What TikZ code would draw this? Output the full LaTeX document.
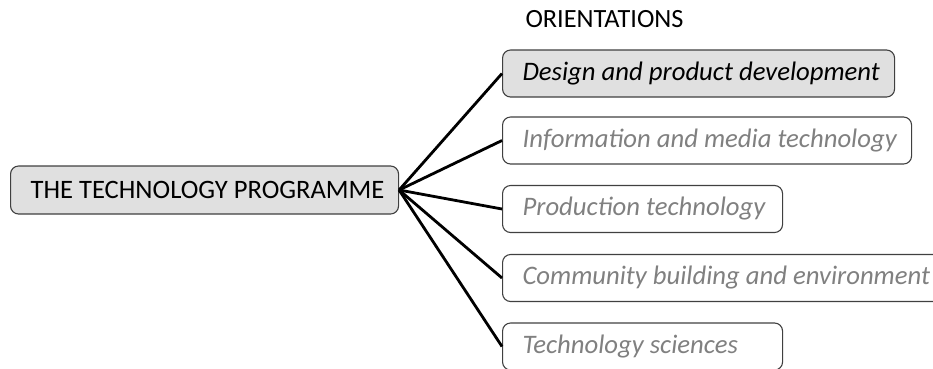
\documentclass[tikz,border=0pt]{standalone}
\usepackage{fontspec}
\setmainfont{Carlito}
\definecolor{boxfill}{HTML}{E0E0E0}
\definecolor{boxdraw}{HTML}{404040}
\definecolor{greytext}{HTML}{808080}
\tikzset{
  box/.style={draw=boxdraw, line width=1.1pt, rounded corners=8pt, inner xsep=20pt, inner ysep=0pt,
    minimum height=47pt, anchor=west, font=\fontsize{26.7}{31}\selectfont\itshape, text=greytext},
  filledbox/.style={box, fill=boxfill, text=black},
  mainbox/.style={box, fill=boxfill, text=black, font=\fontsize{26.6}{31}\selectfont, minimum height=48pt},
  link/.style={line width=2.8pt, black}
}
\begin{document}
\begin{tikzpicture}[x=1pt,y=-1pt]
\useasboundingbox (0,0) rectangle (933,368);
\begin{scope}
\clip (0,0) rectangle (933,368);
\node[anchor=base west, font=\fontsize{26.3}{31}\selectfont] (title) at (522,27) {ORIENTATIONS};
\node[mainbox] (m) at (10,190) {\makebox[348pt][l]{THE TECHNOLOGY PROGRAMME}};
\node[filledbox] (d) at (502,73.5) {\makebox[352pt][l]{Design and product development}};
\node[box] (i) at (502,140.5) {\makebox[369pt][l]{Information and media technology}};
\node[box] (p) at (502,209) {\makebox[240pt][l]{Production technology}};
\node[box] (c) at (502,278) {\makebox[420pt][l]{Community building and environment}};
\node[box] (t) at (502,346.5) {\makebox[240pt][l]{Technology sciences}};
\foreach \n in {d,i,p,c,t}
  \draw[link] (m.east) -- (\n.west);
\end{scope}
\end{tikzpicture}
\end{document}
